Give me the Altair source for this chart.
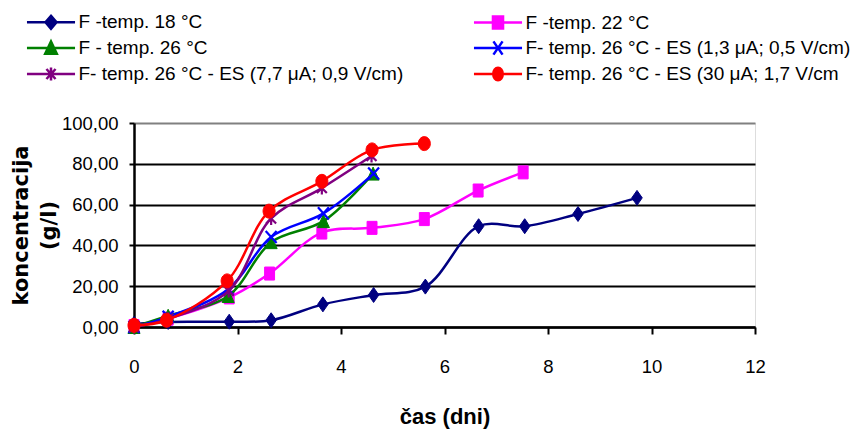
import altair as alt
import pandas as pd

series = ["F -temp. 18 °C", "F -temp. 22 °C", "F - temp. 26 °C",
          "F- temp. 26 °C - ES (1,3 μA; 0,5 V/cm)",
          "F- temp. 26 °C - ES (7,7 μA; 0,9 V/cm)",
          "F- temp. 26 °C - ES (30 μA; 1,7 V/cm"]
colors = ["#000080", "#FF00FF", "#008000", "#0000FF", "#800080", "#FF0000"]

days_18 = [0, 0.66, 1.84, 2.65, 3.65, 4.63, 5.63, 6.66, 7.55, 8.58, 9.72]
conc_18 = [1.5, 2.5, 2.6, 3.3, 11.1, 15.7, 19.8, 49.4, 49.4, 55.4, 63.3]
days_22 = [0, 0.66, 1.84, 2.62, 3.63, 4.6, 5.61, 6.65, 7.52]
conc_22 = [0.5, 4.1, 14.5, 26.2, 46.3, 48.6, 52.9, 66.9, 75.8]
days_26 = [0, 0.66, 1.82, 2.65, 3.66, 4.62]
conc_26 = [0, 5.5, 15.2, 41.6, 51.9, 75.2]
days_es13 = [0, 0.66, 1.82, 2.65, 3.66, 4.63]
conc_es13 = [0, 5.0, 18.5, 44.1, 55.7, 75.2]
days_es77 = [0, 0.66, 1.83, 2.65, 3.63, 4.59]
conc_es77 = [0, 4.0, 17.7, 53.2, 68.1, 83.8]
days_es30 = [0, 0.63, 1.8, 2.61, 3.63, 4.6, 5.61]
conc_es30 = [0.8, 3.3, 22.6, 56.8, 71.4, 86.8, 89.9]

x_ticks = [0, 2, 4, 6, 8, 10, 12]
y_ticks = [0, 20, 40, 60, 80, 100]

all_days = [days_18, days_22, days_26, days_es13, days_es77, days_es30]
all_conc = [conc_18, conc_22, conc_26, conc_es13, conc_es77, conc_es30]

rows = []
for s, ds, cs in zip(series, all_days, all_conc):
    for d, c in zip(ds, cs):
        rows.append({"series": s, "day": d, "conc": c})
df = pd.DataFrame(rows)

# chart markers (unit coords, scaled by sqrt(size)/2)
marker_paths = [
    "M0,-1.07L0.75,0L0,1.07L-0.75,0Z",
    "M-0.71,-0.93H0.71V0.93H-0.71Z",
    "M0,-0.93L0.86,0.93H-0.86Z",
    "M-0.78,-0.86L0.78,0.86M-0.78,0.86L0.78,-0.86",
    "M0,-0.93V0.93M-0.71,-0.71L0.71,0.71M-0.71,0.71L0.71,-0.71",
    "M-0.86,0A0.86,1,0,1,1,0.86,0A0.86,1,0,1,1,-0.86,0Z",
]
marker_filled = [True, True, True, False, False, True]

# legend symbols: line + marker (scaled by 9.5 px per unit)
legend_paths = [
    "M-2.53,0H2.53M0,-0.68L0.58,0L0,0.68L-0.58,0Z",
    "M-2.53,0H2.53M-0.53,-0.63H0.53V0.63H-0.53Z",
    "M-2.53,0H2.53M0,-0.68L0.61,0.61H-0.61Z",
    "M-2.53,0H2.53M-0.48,-0.7L0.48,0.7M-0.48,0.7L0.48,-0.7",
    "M-2.53,0H2.53M0,-0.68V0.68M-0.48,-0.53L0.48,0.53M-0.48,0.53L0.48,-0.53",
    "M-2.53,0H2.53M-0.5,0A0.5,0.66,0,1,1,0.5,0A0.5,0.66,0,1,1,-0.5,0Z",
]

FONT = "Liberation Sans, Arial, sans-serif"

x_enc = alt.X("day:Q", scale=alt.Scale(domain=[0, 12], nice=False, zero=False),
              axis=alt.Axis(values=x_ticks, title="čas (dni)", grid=False, labelFlush=False,
                            labelFont=FONT, labelFontSize=18.5, labelColor="black",
                            labelPadding=23, tickSize=7, tickColor="black", tickWidth=2,
                            domainColor="black", domainWidth=2.5,
                            titleFont=FONT, titleFontSize=22, titleFontWeight="bold",
                            titleColor="black", titlePadding=31))
y_enc = alt.Y("conc:Q", scale=alt.Scale(domain=[0, 100], nice=False),
              axis=alt.Axis(values=y_ticks, title=["koncentracija", "(g/l)"],
                            labelExpr="replace(format(datum.value, '.2f'), '.', ',')",
                            labelFont=FONT, labelFontSize=18.5, labelColor="black",
                            labelPadding=11, tickSize=5, tickColor="black", tickWidth=2,
                            domainColor="black", domainWidth=2.5,
                            grid=True,
                            gridColor={"condition": {"test": "datum.value === 100", "value": "#808080"},
                                       "value": "black"},
                            gridWidth=2.2,
                            titleFont="DejaVu Sans, sans-serif", titleFontSize=21,
                            titleFontWeight="bold",
                            titleColor="black", titlePadding=2, titleLineHeight=28))

color_scale = alt.Scale(domain=series, range=colors)

leg = alt.Legend(title=None, orient="none", legendX=-94, legendY=-112, columns=2,
                 direction="horizontal",
                 columnPadding=64, rowPadding=2, symbolSize=361, symbolStrokeWidth=2.5,
                 labelFont=FONT, labelFontSize=19, labelColor="black", labelLimit=600,
                 labelOffset=16.5, gridAlign="all", padding=0)

layers = []
for i, s in enumerate(series):
    base = alt.Chart(df).transform_filter(alt.datum.series == s)
    line = base.mark_line(interpolate="catmull-rom", strokeWidth=2.5).encode(
        x=x_enc, y=y_enc,
        stroke=alt.Stroke("series:N", scale=color_scale, legend=leg),
    )
    pts = base.mark_point(shape=marker_paths[i], size=196, opacity=1,
                          filled=marker_filled[i],
                          strokeWidth=1 if marker_filled[i] else 2.2).encode(
        x=x_enc, y=y_enc,
        stroke=alt.Stroke("series:N", scale=color_scale, legend=leg),
        fill=alt.Fill("series:N", scale=color_scale, legend=leg),
    )
    layers += [line, pts]

legend_layer = alt.Chart(df).transform_filter("false").mark_point(filled=True, opacity=1).encode(
    x=x_enc, y=y_enc,
    stroke=alt.Stroke("series:N", scale=color_scale, legend=leg),
    fill=alt.Fill("series:N", scale=color_scale, legend=leg),
    shape=alt.Shape("series:N", scale=alt.Scale(domain=series, range=legend_paths), legend=leg),
)
layers.append(legend_layer)

chart = alt.layer(*layers).properties(
    width=621, height=204,
    autosize=alt.AutoSizeParams(type="none"),
    padding={"left": 126, "top": 115, "right": 100, "bottom": 104},
).configure_view(stroke="#808080", strokeWidth=2.5).configure(background="white")

chart.save("out.html", embed_options={"renderer": "svg", "actions": False})
